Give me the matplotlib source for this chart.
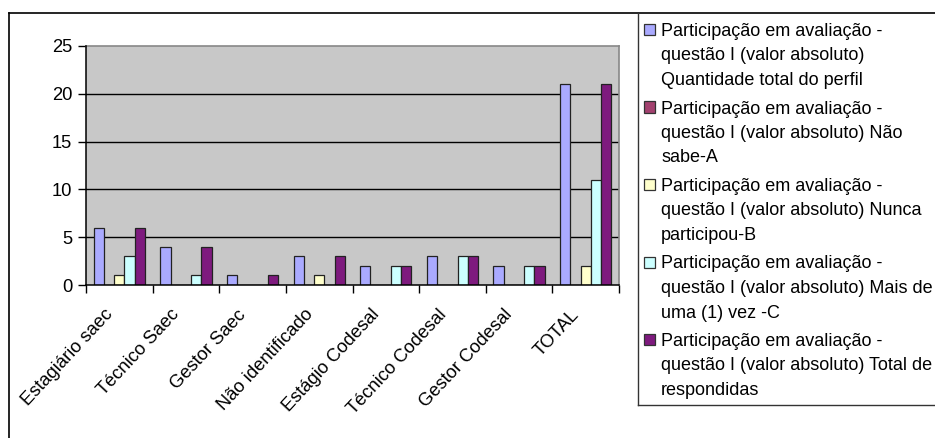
import matplotlib
matplotlib.use("Agg")
import matplotlib.pyplot as plt
import numpy as np
from matplotlib.patches import Rectangle
from matplotlib.lines import Line2D
from matplotlib.transforms import ScaledTranslation

plt.rcParams['font.family'] = ['Liberation Sans', 'DejaVu Sans']

categories = ["Estagiário saec", "Técnico Saec", "Gestor Saec", "Não identificado",
              "Estágio Codesal", "Técnico Codesal", "Gestor Codesal", "TOTAL"]
quantidade_total = [6, 4, 1, 3, 2, 3, 2, 21]
nao_sabe = [0, 0, 0, 0, 0, 0, 0, 0]
nunca_participou = [1, 0, 0, 1, 0, 0, 0, 2]
mais_de_uma = [3, 1, 0, 0, 2, 3, 2, 11]
total_respondidas = [6, 4, 1, 3, 2, 3, 2, 21]
series_labels = [
    "Participação em avaliação -\nquestão I (valor absoluto)\nQuantidade total do perfil",
    "Participação em avaliação -\nquestão I (valor absoluto) Não\nsabe-A",
    "Participação em avaliação -\nquestão I (valor absoluto) Nunca\nparticipou-B",
    "Participação em avaliação -\nquestão I (valor absoluto) Mais de\numa (1) vez -C",
    "Participação em avaliação -\nquestão I (valor absoluto) Total de\nrespondidas",
]
yticks = [0, 5, 10, 15, 20, 25]

series = [quantidade_total, nao_sabe, nunca_participou, mais_de_uma, total_respondidas]
colors = ["#AAAAFF", "#A3416F", "#FFFFCC", "#CCFFFF", "#7E1A7E"]

W, H = 935, 438
fig = plt.figure(figsize=(W / 100, H / 100), dpi=100)

def fx(px):
    return px / W

def fy(py):
    return 1 - py / H

FS = 13.2
LFS = 13.0

ax_l, ax_r, ax_t, ax_b = 86, 619, 46, 285
ax = fig.add_axes([fx(ax_l), fy(ax_b), fx(ax_r - ax_l), (ax_b - ax_t) / H])
ax.set_facecolor("#C8C8C8")

n = len(categories)
nser = len(series)
gap = 1.5
bw = 1.0 / (nser + gap)
x = np.arange(n)
for i, (vals, c) in enumerate(zip(series, colors)):
    offs = -0.5 + bw * gap / 2 + bw * (i + 0.5)
    ax.bar(x + offs, vals, width=bw, color=c, edgecolor="#222222", linewidth=0.9, zorder=3)

ax.set_xlim(-0.5, n - 0.5)
ax.set_ylim(0, 25)
ax.set_yticks(yticks)
ax.set_yticklabels([str(t) for t in yticks], fontsize=FS)
for t in yticks[1:-1]:
    ax.axhline(t, color="black", linewidth=1.0, zorder=1)

ax.set_xticks(np.arange(n + 1) - 0.5)
ax.set_xticklabels([])
ax.set_xticks(x, minor=True)
ax.set_xticklabels(categories, minor=True, rotation=47, ha="right", va="center",
                   rotation_mode="anchor", fontsize=FS)
ax.tick_params(axis="x", which="minor", length=0, pad=0)
ax.tick_params(axis="x", which="major", length=6, width=1, direction="out")
ax.tick_params(axis="y", length=6, width=1, direction="out", pad=4)
for lbl in ax.get_xticklabels(minor=True):
    lbl.set_transform(lbl.get_transform() + ScaledTranslation(-9 / 100, -27 / 100, fig.dpi_scale_trans))

for s in ["left", "bottom"]:
    ax.spines[s].set_color("black")
    ax.spines[s].set_linewidth(1.1)
    ax.spines[s].set_zorder(4)
for s in ["top", "right"]:
    ax.spines[s].set_color("#888888")
    ax.spines[s].set_linewidth(1.2)

# outer chart frame
fig.add_artist(Line2D([fx(9), 1], [fy(13), fy(13)], color="black", linewidth=1.2))
fig.add_artist(Line2D([fx(9), fx(9)], [fy(13), 0], color="black", linewidth=1.2))
# legend box
fig.add_artist(Line2D([fx(638), fx(638)], [fy(13), fy(405)], color="#333333", linewidth=1.0))
fig.add_artist(Line2D([fx(638), 1], [fy(405), fy(405)], color="#333333", linewidth=1.0))

first_baseline = 36
entry_step = 77.5
line_step = 24.5
for i, (lab, c) in enumerate(zip(series_labels, colors)):
    base = first_baseline + i * entry_step
    fig.add_artist(Rectangle((fx(644), fy(base - 1)), fx(11), 11 / H,
                             facecolor=c, edgecolor="#333333", linewidth=0.9))
    for j, line in enumerate(lab.split("\n")):
        fig.text(fx(661), fy(base + j * line_step), line, fontsize=LFS,
                 va="baseline", ha="left")

fig.savefig("out.png", dpi=100)
